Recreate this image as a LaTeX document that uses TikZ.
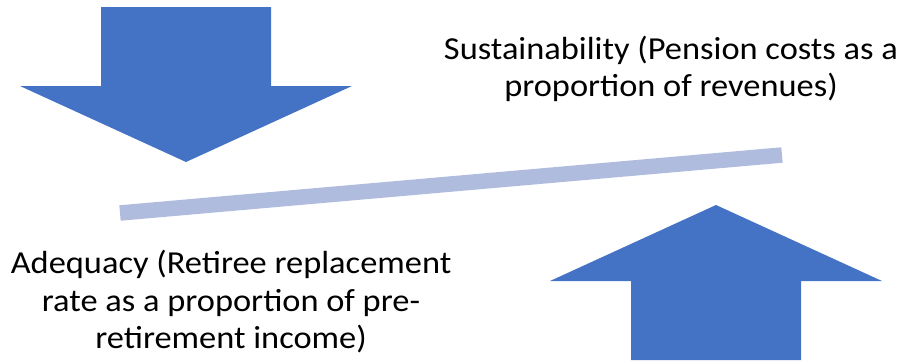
\documentclass[tikz,border=0pt]{standalone}
\usepackage{fontspec}
\setmainfont{Carlito}
\newfontfamily\labelfont[FakeStretch=1.075]{Carlito}
\definecolor{arrowblue}{HTML}{4472C4}
\definecolor{beamblue}{HTML}{B0BCDE}
\begin{document}
\begin{tikzpicture}[x=1pt,y=-1pt,
  bigarrow/.style={fill=arrowblue,draw=none},
  beam/.style={draw=beamblue,line width=15.5pt,line cap=butt},
  caption/.style={align=center,inner sep=0pt,font=\labelfont\fontsize{32}{37.5}\selectfont}]
  \useasboundingbox (0,0) rectangle (900,362);
  % downward block arrow (top left)
  \fill[bigarrow] (101,7) -- (271,7) -- (271,86) -- (352,86) -- (186,162)
    -- (20,86) -- (101,86) -- cycle;
  % upward block arrow (bottom right)
  \fill[bigarrow] (631,360) -- (801,360) -- (801,281) -- (882,281) -- (716,205)
    -- (550,281) -- (631,281) -- cycle;
  % tilted balance beam
  \coordinate (beamL) at (120,213);
  \coordinate (beamR) at (782,155);
  \draw[beam] (beamL) -- (beamR);
  % labels
  \node[caption] (sust) at (671,69) {Sustainability (Pension costs as a\\proportion of revenues)};
  \node[caption] (adeq) at (231,302) {Adequacy (Retiree replacement\\rate as a proportion of pre-\\retirement income)};
\end{tikzpicture}
\end{document}
